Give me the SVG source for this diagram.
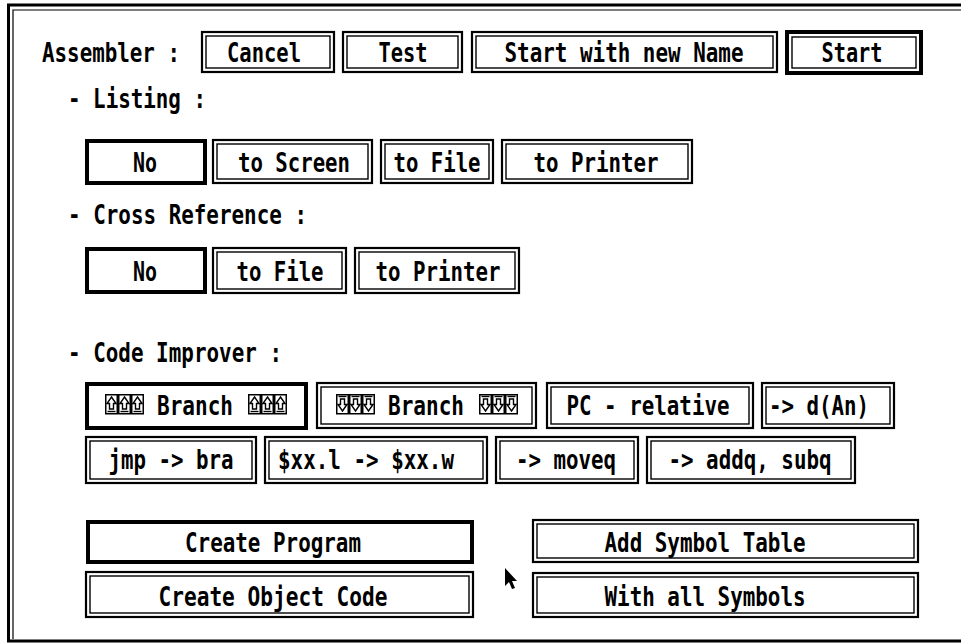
<svg xmlns="http://www.w3.org/2000/svg" width="961" height="644" viewBox="0 0 961 644">
<defs>
<style>
.t{font-family:"DejaVu Sans Mono","Liberation Mono",monospace;font-weight:bold;font-size:26px;fill:#000}
.m{text-anchor:middle}
.o{fill:#fff;stroke:#000;stroke-width:2.2}
.i{fill:none;stroke:#000;stroke-width:1.4}
.s{fill:#fff;stroke:#000;stroke-width:4}
.frame{fill:none;stroke:#000}
</style>
<g id="up">
<rect x="0.75" y="0.75" width="11.5" height="19" fill="#fff" stroke="#000" stroke-width="1.5"/>
<polygon points="6.5,3 11,9.5 8.5,9.5 8.5,15 4.5,15 4.5,9.5 2,9.5" fill="#fff" stroke="#000" stroke-width="1.4"/>
<line x1="2.5" y1="17.5" x2="10.5" y2="17.5" stroke="#000" stroke-width="1.4"/>
</g>
<g id="down">
<rect x="0.75" y="0.75" width="11.5" height="19" fill="#fff" stroke="#000" stroke-width="1.5"/>
<polygon points="6.5,17 11,10.5 8.5,10.5 8.5,5 4.5,5 4.5,10.5 2,10.5" fill="#fff" stroke="#000" stroke-width="1.4"/>
<line x1="2.5" y1="2.5" x2="10.5" y2="2.5" stroke="#000" stroke-width="1.4"/>
</g>
</defs>
<rect width="961" height="644" fill="#fff"/>
<g id="frame">
<path class="frame" stroke-width="3" d="M961,5 H8.5 V641 H961"/>
<path class="frame" stroke-width="1.2" d="M961,10 H13 V639"/>
</g>
<g id="labels">
<text class="t" x="42" y="62" textLength="138" lengthAdjust="spacingAndGlyphs">Assembler :</text>
<text class="t" x="68" y="108" textLength="138" lengthAdjust="spacingAndGlyphs">- Listing :</text>
<text class="t" x="68" y="224" textLength="239" lengthAdjust="spacingAndGlyphs">- Cross Reference :</text>
<text class="t" x="68" y="362" textLength="214" lengthAdjust="spacingAndGlyphs">- Code Improver :</text>
</g>
<g id="btn-cancel"><rect class="o" x="202" y="32" width="132" height="40"/><rect class="i" x="206" y="36" width="124" height="32"/><text class="t m" x="264" y="62" textLength="74" lengthAdjust="spacingAndGlyphs">Cancel</text></g>
<g id="btn-test"><rect class="o" x="343" y="32" width="119" height="40"/><rect class="i" x="347" y="36" width="111" height="32"/><text class="t m" x="403" y="62" textLength="49" lengthAdjust="spacingAndGlyphs">Test</text></g>
<g id="btn-start-new"><rect class="o" x="472" y="32" width="305" height="40"/><rect class="i" x="476" y="36" width="297" height="32"/><text class="t m" x="624" y="62" textLength="239" lengthAdjust="spacingAndGlyphs">Start with new Name</text></g>
<g id="btn-start"><rect class="s" x="787" y="32" width="134" height="41"/><rect class="i" x="792" y="37" width="124" height="31"/><text class="t m" x="852" y="62" textLength="61" lengthAdjust="spacingAndGlyphs">Start</text></g>

<g id="list-no"><rect class="s" x="87" y="141" width="118" height="42"/><text class="t m" x="145" y="172" textLength="24" lengthAdjust="spacingAndGlyphs">No</text></g>
<g id="list-screen"><rect class="o" x="213" y="140" width="159" height="43"/><rect class="i" x="217" y="144" width="151" height="35"/><text class="t m" x="294" y="172" textLength="112" lengthAdjust="spacingAndGlyphs">to Screen</text></g>
<g id="list-file"><rect class="o" x="381" y="140" width="112" height="43"/><rect class="i" x="385" y="144" width="104" height="35"/><text class="t m" x="437" y="172" textLength="87" lengthAdjust="spacingAndGlyphs">to File</text></g>
<g id="list-printer"><rect class="o" x="502" y="140" width="190" height="43"/><rect class="i" x="506" y="144" width="182" height="35"/><text class="t m" x="596" y="172" textLength="125" lengthAdjust="spacingAndGlyphs">to Printer</text></g>

<g id="xref-no"><rect class="s" x="87" y="249" width="118" height="43"/><text class="t m" x="145" y="281" textLength="24" lengthAdjust="spacingAndGlyphs">No</text></g>
<g id="xref-file"><rect class="o" x="213" y="248" width="133" height="45"/><rect class="i" x="217" y="252" width="125" height="37"/><text class="t m" x="280" y="281" textLength="87" lengthAdjust="spacingAndGlyphs">to File</text></g>
<g id="xref-printer"><rect class="o" x="355" y="248" width="164" height="45"/><rect class="i" x="359" y="252" width="156" height="37"/><text class="t m" x="438" y="281" textLength="125" lengthAdjust="spacingAndGlyphs">to Printer</text></g>

<g id="branch-up"><rect class="s" x="87" y="384" width="219" height="44"/>
<use href="#up" x="105" y="394"/><use href="#up" x="118" y="394"/><use href="#up" x="131" y="394"/>
<text class="t" x="157" y="415" textLength="76" lengthAdjust="spacingAndGlyphs">Branch</text>
<use href="#up" x="248" y="394"/><use href="#up" x="261" y="394"/><use href="#up" x="274" y="394"/></g>
<g id="branch-down"><rect class="o" x="317" y="383" width="219" height="45"/><rect class="i" x="321" y="387" width="211" height="37"/>
<use href="#down" x="336" y="394"/><use href="#down" x="349" y="394"/><use href="#down" x="362" y="394"/>
<text class="t" x="388" y="415" textLength="76" lengthAdjust="spacingAndGlyphs">Branch</text>
<use href="#down" x="479" y="394"/><use href="#down" x="492" y="394"/><use href="#down" x="505" y="394"/></g>
<g id="pc-relative"><rect class="o" x="547" y="383" width="206" height="45"/><rect class="i" x="551" y="387" width="198" height="37"/><text class="t m" x="648" y="415" textLength="163" lengthAdjust="spacingAndGlyphs">PC - relative</text></g>
<g id="d-an"><rect class="o" x="762" y="383" width="132" height="45"/><rect class="i" x="766" y="387" width="124" height="37"/><text class="t m" x="819" y="415" textLength="100" lengthAdjust="spacingAndGlyphs">-&gt; d(An)</text></g>

<g id="jmp-bra"><rect class="o" x="86" y="437" width="170" height="46"/><rect class="i" x="90" y="441" width="162" height="38"/><text class="t m" x="171" y="469" textLength="125" lengthAdjust="spacingAndGlyphs">jmp -&gt; bra</text></g>
<g id="xxl-xxw"><rect class="o" x="265" y="437" width="222" height="46"/><rect class="i" x="269" y="441" width="214" height="38"/><text class="t m" x="366" y="469" textLength="176" lengthAdjust="spacingAndGlyphs">$xx.l -&gt; $xx.w</text></g>
<g id="moveq"><rect class="o" x="496" y="437" width="142" height="46"/><rect class="i" x="500" y="441" width="134" height="38"/><text class="t m" x="566" y="469" textLength="100" lengthAdjust="spacingAndGlyphs">-&gt; moveq</text></g>
<g id="addq-subq"><rect class="o" x="647" y="437" width="208" height="46"/><rect class="i" x="651" y="441" width="200" height="38"/><text class="t m" x="750" y="469" textLength="163" lengthAdjust="spacingAndGlyphs">-&gt; addq, subq</text></g>

<g id="create-program"><rect class="s" x="88" y="522" width="384" height="40"/><text class="t m" x="273" y="552" textLength="176" lengthAdjust="spacingAndGlyphs">Create Program</text></g>
<g id="add-symbol-table"><rect class="o" x="533" y="520" width="385" height="42"/><rect class="i" x="537" y="524" width="377" height="34"/><text class="t m" x="705" y="552" textLength="201" lengthAdjust="spacingAndGlyphs">Add Symbol Table</text></g>
<g id="create-object-code"><rect class="o" x="86" y="572" width="387" height="45"/><rect class="i" x="90" y="576" width="379" height="37"/><text class="t m" x="273" y="606" textLength="229" lengthAdjust="spacingAndGlyphs">Create Object Code</text></g>
<g id="with-all-symbols"><rect class="o" x="533" y="573" width="385" height="44"/><rect class="i" x="537" y="577" width="377" height="36"/><text class="t m" x="705" y="606" textLength="201" lengthAdjust="spacingAndGlyphs">With all Symbols</text></g>

<g id="connectors"></g>
<polygon id="cursor" points="505,568 505,586 509,582 512,589 515,588 512,581 517,581" fill="#000"/>
</svg>
